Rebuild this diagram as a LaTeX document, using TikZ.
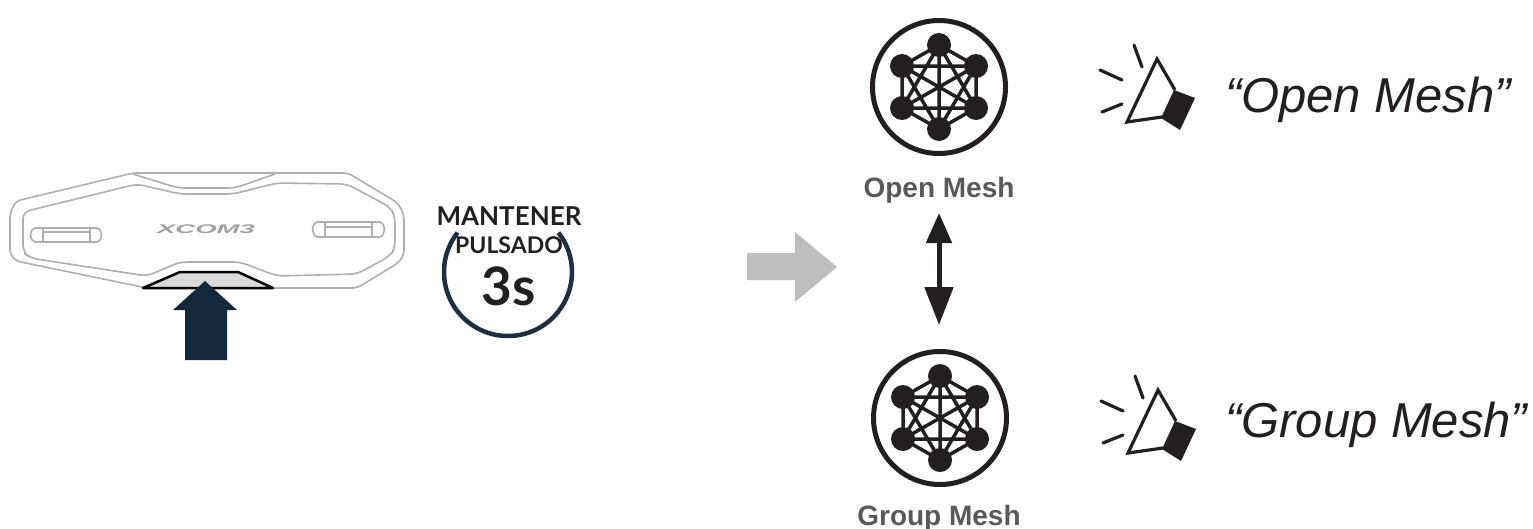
\documentclass[tikz,border=0pt]{standalone}
\usepackage{fontspec}
\usepackage{graphicx}
\setmainfont{Liberation Sans}
\newfontfamily\timerfont{Lato}
\usetikzlibrary{arrows.meta}

\definecolor{devline}{HTML}{AEAFB1}
\definecolor{logogray}{HTML}{A0A0A0}
\definecolor{pushnavy}{HTML}{13283B}
\definecolor{ringnavy}{HTML}{1C2F42}
\definecolor{labelgray}{HTML}{58595B}
\definecolor{arrowgray}{HTML}{BCBEC0}
\definecolor{btnfill}{HTML}{D9D9D9}
\definecolor{ink}{HTML}{231F20}

\tikzset{
  devstroke/.style={draw=devline, line width=1.6pt, line join=round, rounded corners=5pt},
  txt/.style={inner sep=0pt, outer sep=0pt},
  meshlabel/.style={txt, anchor=base, text=labelgray, font=\fontsize{28}{28}\selectfont\bfseries},
  saytext/.style={txt, anchor=base west, text=ink, font=\fontsize{49}{49}\selectfont\itshape},
  holdtext/.style={txt, anchor=base, text=ink},
  swaparrow/.style={draw=ink, line width=5pt,
    {Triangle[width=25pt,length=30pt]}-{Triangle[width=28pt,length=38pt]}},
  meshicon/.pic={
    \draw[ink, line width=5pt] (0,0) circle[radius=66.5];
    \draw[ink, line width=3.5pt]
      (0,-42) -- (-37,-21) -- (-37,21) -- (0,42) -- (37,21) -- (37,-21) -- cycle
      (0,-42) -- (-37,21) -- (37,21) -- cycle
      (0,42) -- (-37,-21) -- (37,-21) -- cycle
      (0,-42) -- (0,42)
      (-37,-21) -- (37,21)
      (37,-21) -- (-37,21);
    \foreach \a/\b in {0/-42, -37/-21, 37/-21, -37/21, 37/21, 0/42}
      \fill[ink] (\a,\b) circle[radius=12];
  },
  speaker/.pic={
    \draw[ink, line width=3.2pt, line cap=round]
      (-23,-14) -- (-15,8)
      (-57,11) -- (-35,21)
      (-55,53) -- (-35,45);
    \draw[ink, line width=3.2pt, line join=miter]
      (18,31) -- (0,0) -- (-30,63) -- (5,58);
    \fill[ink] (17,31) -- (38,39) -- (23,71) -- (4,59) -- cycle;
  }
}

\begin{document}
\begin{tikzpicture}[x=1pt, y=-1pt]
\useasboundingbox (0,0) rectangle (1533,528);

% ---------- headset unit ----------
% outer shell
\draw[devstroke]
  (133,173) -- (348,173) -- (398,203) -- (404,215) -- (404,255) -- (398,263)
  -- (357,288) -- (147,288) -- (16,261) -- (10,254) -- (10,213) -- (16,201) -- cycle;
% inner face
\draw[devstroke, rounded corners=7pt]
  (23,212) -- (137,184) -- (180,194) -- (233,194) -- (277,183) -- (347,184)
  -- (390,207) -- (395,216) -- (395,248) -- (390,256) -- (357,274) -- (277,276)
  -- (240,262) -- (180,262) -- (147,276) -- (30,258) -- (23,252) -- cycle;
% top groove
\draw[devstroke, rounded corners=7pt]
  (133,174) -- (178,188) -- (235,188) -- (275,174);
% side slots
\draw[devstroke, rounded corners=2pt]
  (30,235) -- (33,228) -- (99,228) -- (102,235) -- (99,242) -- (33,242) -- cycle;
\draw[devstroke] (43,228) -- (43,242) (90,228) -- (90,242) (43,232) -- (90,232);
\draw[devstroke, rounded corners=2pt]
  (312,229) -- (315,222) -- (382,222) -- (385,229) -- (382,237) -- (315,237) -- cycle;
\draw[devstroke] (325,222) -- (325,237) (372,222) -- (372,237) (325,227) -- (372,227);
% logo
\node[txt, text=logogray] (logo) at (206,229)
  {\scalebox{2.2}[1]{\fontsize{12.5}{12.5}\selectfont\bfseries\itshape XCOM3}};
% centre button
\draw[draw=black, fill=btnfill, line width=2.5pt, line join=round]
  (180,272) -- (238,272) -- (273,288) -- (143,288) -- cycle;
% press arrow
\fill[pushnavy]
  (185,360) -- (185,310) -- (173,310) -- (205,281) -- (237,310) -- (227,310)
  -- (227,360) -- cycle;

% ---------- hold timer ----------
\draw[ringnavy, line width=4.5pt]
  (508,272) ++(218:64) arc[start angle=218, end angle=-38, radius=64];
\node[holdtext] (hold1) at (509,225)
  {\timerfont\fontsize{26}{26}\selectfont\bfseries MANTENER};
\node[holdtext] (hold2) at (509,253)
  {\timerfont\fontsize{23}{23}\selectfont\bfseries PULSADO};
\node[holdtext] (secs) at (509,305)
  {\timerfont\fontsize{53}{53}\selectfont\bfseries 3s};

% ---------- transition arrow ----------
\fill[arrowgray]
  (747,253) -- (795,253) -- (795,232) -- (837,267) -- (795,302) -- (795,280)
  -- (747,280) -- cycle;

% ---------- mesh modes ----------
\pic (openicon) at (939,87) {meshicon};
\node[meshlabel] (openlbl) at (939,197) {Open Mesh};
\pic (groupicon) at (940,418) {meshicon};
\node[meshlabel] (grouplbl) at (939,525) {Group Mesh};

\coordinate (swaptop) at (939,213);
\coordinate (swapbot) at (939,325);
\draw[swaparrow] (swaptop) -- (swapbot);

% ---------- voice prompts ----------
\pic (openspk) at (1157,59) {speaker};
\node[saytext] (opensay) at (1225,112) {“Open Mesh”};
\pic (groupspk) at (1158,390) {speaker};
\node[saytext] (groupsay) at (1225,437) {“Group Mesh”};
\end{tikzpicture}
\end{document}
